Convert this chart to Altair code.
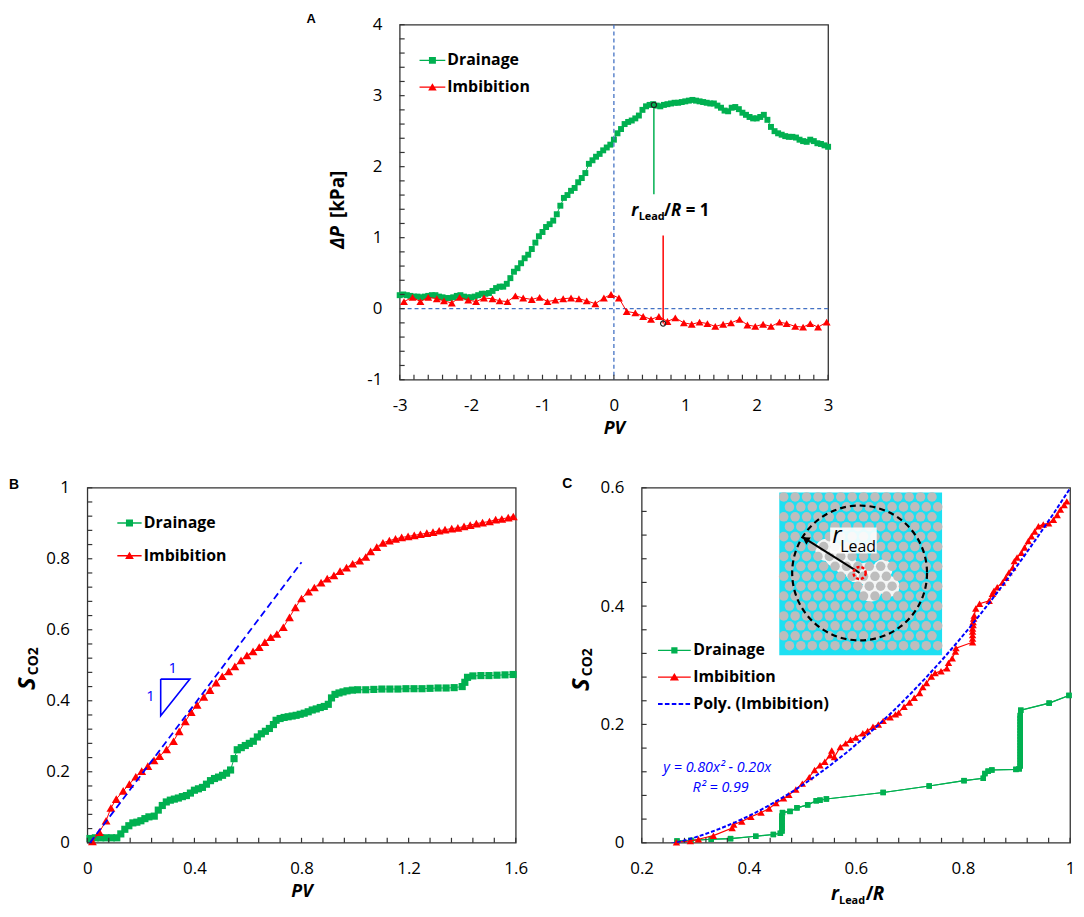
import altair as alt
import numpy as np
import pandas as pd

FONT = "Open Sans"
GREEN = "#00B050"
RED = "#FF0000"
LBLUE = "#4472C4"
BLUE = "#0000FF"
INK = "#000000"
W, H = 432, 358

# ------------------------------------------------------------------ Panel A data
a_drain = [
    (-3.00, 0.19), (-2.95, 0.20), (-2.90, 0.19), (-2.85, 0.18), (-2.80, 0.17), (-2.75, 0.17),
    (-2.70, 0.16), (-2.65, 0.17), (-2.60, 0.18), (-2.55, 0.19), (-2.50, 0.19), (-2.45, 0.17),
    (-2.40, 0.16), (-2.35, 0.15), (-2.30, 0.15), (-2.25, 0.16), (-2.20, 0.18), (-2.15, 0.19),
    (-2.10, 0.17), (-2.05, 0.16), (-2.00, 0.16), (-1.95, 0.17), (-1.90, 0.19), (-1.85, 0.21),
    (-1.80, 0.21), (-1.75, 0.22), (-1.70, 0.25), (-1.65, 0.29), (-1.60, 0.31), (-1.55, 0.31),
    (-1.50, 0.35), (-1.45, 0.43), (-1.40, 0.52), (-1.35, 0.57), (-1.30, 0.64), (-1.25, 0.71),
    (-1.20, 0.76), (-1.15, 0.84), (-1.10, 0.93), (-1.05, 1.02), (-1.00, 1.08), (-0.95, 1.15),
    (-0.90, 1.19), (-0.85, 1.24), (-0.80, 1.33), (-0.75, 1.45), (-0.70, 1.56), (-0.65, 1.60),
    (-0.60, 1.66), (-0.55, 1.70), (-0.50, 1.78), (-0.45, 1.84), (-0.40, 1.91), (-0.35, 2.04),
    (-0.30, 2.09), (-0.25, 2.14), (-0.20, 2.18), (-0.15, 2.23), (-0.10, 2.27), (-0.05, 2.31),
    (0.00, 2.38), (0.05, 2.47), (0.10, 2.53), (0.15, 2.60), (0.20, 2.63), (0.25, 2.65),
    (0.30, 2.68), (0.35, 2.72), (0.40, 2.80), (0.45, 2.85), (0.50, 2.87), (0.55, 2.88),
    (0.60, 2.86), (0.65, 2.85), (0.70, 2.87), (0.75, 2.88), (0.80, 2.89), (0.85, 2.90),
    (0.90, 2.90), (0.95, 2.91), (1.00, 2.92), (1.05, 2.93), (1.10, 2.94), (1.15, 2.93),
    (1.20, 2.92), (1.25, 2.91), (1.30, 2.90), (1.35, 2.89), (1.40, 2.89), (1.45, 2.86),
    (1.50, 2.83), (1.55, 2.79), (1.60, 2.78), (1.65, 2.83), (1.70, 2.84), (1.75, 2.81),
    (1.80, 2.76), (1.85, 2.73), (1.90, 2.70), (1.95, 2.68), (2.00, 2.68), (2.05, 2.70),
    (2.10, 2.73), (2.15, 2.66), (2.20, 2.56), (2.25, 2.50), (2.30, 2.47), (2.35, 2.45),
    (2.40, 2.43), (2.45, 2.42), (2.50, 2.42), (2.55, 2.41), (2.60, 2.38), (2.65, 2.36),
    (2.70, 2.35), (2.75, 2.38), (2.80, 2.36), (2.85, 2.33), (2.90, 2.32), (2.95, 2.30),
    (3.00, 2.28),
]
a_imb = [
    (-2.94, 0.10), (-2.82, 0.16), (-2.71, 0.10), (-2.60, 0.16), (-2.48, 0.14), (-2.38, 0.11),
    (-2.27, 0.08), (-2.16, 0.16), (-2.04, 0.12), (-1.93, 0.10), (-1.82, 0.15), (-1.70, 0.14),
    (-1.60, 0.11), (-1.49, 0.10), (-1.38, 0.18), (-1.27, 0.15), (-1.15, 0.13), (-1.04, 0.16),
    (-0.93, 0.10), (-0.82, 0.12), (-0.71, 0.14), (-0.60, 0.15), (-0.49, 0.14), (-0.38, 0.11),
    (-0.26, 0.07), (-0.14, 0.15), (-0.04, 0.20), (0.07, 0.15), (0.18, -0.04), (0.30, -0.06),
    (0.41, -0.11), (0.52, -0.15), (0.63, -0.11), (0.75, -0.18), (0.86, -0.13), (0.98, -0.20),
    (1.09, -0.22), (1.20, -0.19), (1.31, -0.21), (1.42, -0.25), (1.53, -0.22), (1.64, -0.20),
    (1.76, -0.15), (1.87, -0.23), (1.98, -0.25), (2.09, -0.22), (2.20, -0.25), (2.32, -0.19),
    (2.42, -0.21), (2.54, -0.25), (2.65, -0.26), (2.75, -0.21), (2.86, -0.26), (2.98, -0.19),
]
a_xlabels = [-3, -2, -1, 0, 1, 2, 3]
a_ylabels = [-1, 0, 1, 2, 3, 4]
a_xticks = [round(-3 + 0.2 * i, 2) for i in range(31)]
a_yticks = [round(-1 + 0.2 * i, 2) for i in range(26)]
a_marks = [(0.56, 2.87), (0.69, -0.21)]           # circled points at rLead/R = 1
a_green_seg = [(0.56, 2.87, 1.61)]                 # x, y, y2
a_red_seg = [(0.69, 1.03, -0.21)]
a_note_at = [(0.243, 1.31)]

# ------------------------------------------------------------------ Panel B data
b_drain = [
    (0.01, 0.012), (0.03, 0.014), (0.05, 0.014), (0.07, 0.014), (0.09, 0.014), (0.11, 0.014),
    (0.125, 0.025), (0.14, 0.038), (0.155, 0.048), (0.17, 0.056), (0.185, 0.058), (0.20, 0.062),
    (0.215, 0.068), (0.23, 0.073), (0.25, 0.075), (0.265, 0.092), (0.28, 0.105), (0.295, 0.115),
    (0.31, 0.12), (0.325, 0.123), (0.34, 0.126), (0.355, 0.13), (0.37, 0.133), (0.385, 0.14),
    (0.40, 0.148), (0.415, 0.152), (0.43, 0.156), (0.445, 0.165), (0.46, 0.175), (0.475, 0.181),
    (0.49, 0.185), (0.505, 0.19), (0.52, 0.196), (0.535, 0.205), (0.548, 0.237), (0.56, 0.262),
    (0.575, 0.268), (0.59, 0.274), (0.605, 0.28), (0.62, 0.286), (0.635, 0.298), (0.65, 0.307),
    (0.665, 0.314), (0.68, 0.322), (0.695, 0.333), (0.705, 0.345), (0.72, 0.35), (0.735, 0.353),
    (0.75, 0.355), (0.765, 0.357), (0.78, 0.359), (0.795, 0.362), (0.81, 0.365), (0.825, 0.369),
    (0.84, 0.374), (0.855, 0.377), (0.87, 0.381), (0.885, 0.384), (0.90, 0.39), (0.912, 0.408),
    (0.925, 0.418), (0.94, 0.422), (0.955, 0.425), (0.97, 0.428), (0.99, 0.43), (1.01, 0.431),
    (1.04, 0.431), (1.07, 0.432), (1.10, 0.433), (1.13, 0.433), (1.16, 0.433), (1.19, 0.434),
    (1.22, 0.434), (1.25, 0.434), (1.28, 0.435), (1.31, 0.436), (1.34, 0.436), (1.37, 0.437),
    (1.40, 0.44), (1.41, 0.452), (1.42, 0.466), (1.44, 0.470), (1.47, 0.471), (1.50, 0.471),
    (1.53, 0.472), (1.56, 0.473), (1.59, 0.474),
]
b_imb = [
    (0.019, 0.004), (0.045, 0.03), (0.07, 0.062), (0.088, 0.098), (0.108, 0.123), (0.134, 0.146),
    (0.157, 0.165), (0.181, 0.186), (0.203, 0.202), (0.226, 0.216), (0.249, 0.232), (0.27, 0.244),
    (0.296, 0.263), (0.322, 0.286), (0.343, 0.314), (0.366, 0.342), (0.388, 0.368), (0.41, 0.388),
    (0.435, 0.411), (0.458, 0.43), (0.481, 0.451), (0.504, 0.469), (0.528, 0.483), (0.551, 0.497),
    (0.574, 0.514), (0.596, 0.528), (0.619, 0.539), (0.642, 0.551), (0.663, 0.565), (0.685, 0.579),
    (0.708, 0.588), (0.732, 0.607), (0.755, 0.635), (0.777, 0.663), (0.80, 0.688), (0.826, 0.707),
    (0.848, 0.719), (0.873, 0.733), (0.896, 0.744), (0.921, 0.753), (0.944, 0.765), (0.968, 0.775),
    (0.991, 0.786), (1.017, 0.795), (1.04, 0.805), (1.058, 0.821), (1.081, 0.833), (1.104, 0.845),
    (1.128, 0.851), (1.151, 0.856), (1.174, 0.86), (1.198, 0.863), (1.221, 0.866), (1.244, 0.869),
    (1.268, 0.872), (1.291, 0.875), (1.314, 0.879), (1.336, 0.882), (1.361, 0.885), (1.384, 0.887),
    (1.407, 0.891), (1.43, 0.895), (1.453, 0.899), (1.476, 0.902), (1.502, 0.905), (1.525, 0.91),
    (1.548, 0.912), (1.572, 0.916), (1.591, 0.919),
]
b_slope_line = [(0.01, 0.0), (0.80, 0.79)]
b_triangle = [(0.274, 0.461), (0.383, 0.461), (0.274, 0.358), (0.274, 0.461)]
b_tri_labels = [(0.319, 0.491, "1"), (0.236, 0.412, "1")]
b_xlabels = [0, 0.4, 0.8, 1.2, 1.6]
b_ylabels = [0, 0.2, 0.4, 0.6, 0.8, 1]
b_xticks = [round(0.08 * i, 2) for i in range(21)]
b_yticks = [round(0.04 * i, 2) for i in range(26)]

# ------------------------------------------------------------------ Panel C data
c_drain = [
    (0.266, 0.003), (0.292, 0.004), (0.330, 0.006), (0.366, 0.007), (0.413, 0.011), (0.446, 0.014),
    (0.459, 0.016), (0.462, 0.020), (0.462, 0.025), (0.462, 0.030), (0.462, 0.035), (0.462, 0.040),
    (0.462, 0.045), (0.463, 0.051), (0.477, 0.053), (0.490, 0.059), (0.510, 0.064), (0.526, 0.071),
    (0.533, 0.072), (0.545, 0.074), (0.651, 0.085), (0.737, 0.096), (0.802, 0.105), (0.838, 0.109),
    (0.841, 0.117), (0.847, 0.121), (0.854, 0.123), (0.899, 0.124), (0.905, 0.125), (0.907, 0.130),
    (0.907, 0.135), (0.907, 0.140), (0.907, 0.145), (0.907, 0.150), (0.907, 0.155), (0.907, 0.160),
    (0.907, 0.165), (0.907, 0.170), (0.907, 0.175), (0.907, 0.180), (0.907, 0.185), (0.907, 0.190),
    (0.907, 0.195), (0.907, 0.200), (0.907, 0.205), (0.907, 0.210), (0.907, 0.215), (0.908, 0.224),
    (0.961, 0.236), (0.998, 0.249),
]
c_imb = [
    (0.265, 0.001), (0.291, 0.003), (0.306, 0.006), (0.334, 0.012), (0.369, 0.025), (0.372, 0.031),
    (0.387, 0.036), (0.404, 0.044), (0.423, 0.051), (0.438, 0.058), (0.451, 0.067), (0.465, 0.075),
    (0.475, 0.081), (0.488, 0.090), (0.500, 0.100), (0.513, 0.111), (0.523, 0.123), (0.533, 0.131),
    (0.542, 0.137), (0.552, 0.148), (0.555, 0.156), (0.560, 0.145), (0.571, 0.162), (0.581, 0.168),
    (0.590, 0.174), (0.600, 0.178), (0.613, 0.185), (0.622, 0.189), (0.632, 0.196), (0.642, 0.200),
    (0.651, 0.206), (0.664, 0.212), (0.674, 0.217), (0.680, 0.220), (0.690, 0.230), (0.700, 0.237),
    (0.709, 0.245), (0.719, 0.253), (0.725, 0.263), (0.732, 0.270), (0.741, 0.281), (0.748, 0.287),
    (0.759, 0.290), (0.770, 0.295), (0.773, 0.304), (0.780, 0.312), (0.786, 0.323), (0.787, 0.329),
    (0.818, 0.339), (0.818, 0.345), (0.818, 0.351), (0.818, 0.357), (0.818, 0.362), (0.819, 0.368),
    (0.819, 0.373), (0.820, 0.379), (0.821, 0.384), (0.824, 0.396), (0.831, 0.404), (0.849, 0.409),
    (0.855, 0.421), (0.858, 0.426), (0.864, 0.432), (0.874, 0.440), (0.880, 0.448), (0.886, 0.457),
    (0.893, 0.465), (0.896, 0.476), (0.901, 0.482), (0.909, 0.490), (0.915, 0.499), (0.922, 0.510),
    (0.928, 0.518), (0.934, 0.526), (0.941, 0.535), (0.950, 0.538), (0.960, 0.540), (0.969, 0.546),
    (0.976, 0.554), (0.982, 0.563), (0.989, 0.571), (0.994, 0.577),
]
c_fit_extent = [0.255, 1.0]
c_eq_text = [(0.2405, 0.119, "y = 0.80x² - 0.20x"), (0.295, 0.085, "R² = 0.99")]
c_xlabels = [0.2, 0.4, 0.6, 0.8, 1]
c_ylabels = [0, 0.2, 0.4, 0.6]
c_xticks = [round(0.2 + 0.04 * i, 2) for i in range(21)]
c_yticks = [round(0.04 * i, 2) for i in range(16)]
# inset (micromodel picture) placed in data space of panel C
inset_box = [(0.457, 0.761, 0.317, 0.592)]
inset_label_box = [(0.552, 0.639, 0.489, 0.533)]
inset_blobs = [(0.545, 0.495, 500), (0.562, 0.485, 500), (0.580, 0.472, 500), (0.600, 0.458, 450),
               (0.620, 0.455, 500), (0.642, 0.447, 700), (0.662, 0.433, 450), (0.628, 0.425, 450),
               (0.650, 0.462, 400)]
inset_center = [(0.607, 0.456)]
inset_arrow = [(0.607, 0.456), (0.500, 0.517)]
inset_arrow_head = [(0.506, 0.513)]

# grain texture of the micromodel (regular hexagonal packing)
grain_x, grain_y = [], []
_row, _yy = 0, 4.5
while _yy < 162:
    _xx = 4.5 + (5.75 if _row % 2 else 0.0)
    while _xx < 161:
        grain_x.append(0.457 + _xx / 540.0)
        grain_y.append(0.592 - _yy / 596.7)
        _xx += 11.5
    _yy += 10.0
    _row += 1

# ------------------------------------------------------------------ helpers
LABEXPR = "datum.value < 0 ? '-' + format(-datum.value, '~g') : format(datum.value, '~g')"


def ax_lab(orient, values, title=None):
    kw = dict(orient=orient, values=values, ticks=False, tickSize=0, domain=False, grid=False,
              labelFont=FONT, labelFontSize=17, labelColor=INK, labelPadding=18,
              labelExpr=LABEXPR, labelFlush=False, labelOverlap=False)
    if title:
        kw.update(title=title, titleFont=FONT, titleFontSize=18, titleFontWeight="bold",
                  titleFontStyle="italic", titleColor=INK, titlePadding=6)
    else:
        kw["title"] = None
    return alt.Axis(**kw)


def tick_layers(xs, ys, xticks, yticks):
    tx = alt.Chart(pd.DataFrame({"v": xticks})).mark_tick(
        orient="vertical", size=5, thickness=1.2, color="#333333", opacity=1).encode(
        x=alt.X("v:Q", scale=xs, axis=None), y=alt.value(H - 2.5))
    ty = alt.Chart(pd.DataFrame({"v": yticks})).mark_tick(
        orient="horizontal", size=5, thickness=1.2, color="#333333", opacity=1).encode(
        y=alt.Y("v:Q", scale=ys, axis=None), x=alt.value(2.5))
    return [tx, ty]


def pts_df(pairs):
    df = pd.DataFrame(pairs, columns=["x", "y"])
    df["i"] = range(len(df))
    return df


def series_layers(df, xs, ys, color, shape, size, line_w, axes=None):
    if axes is None:
        xl = alt.X("x:Q", scale=xs, axis=None)
        yl = alt.Y("y:Q", scale=ys, axis=None)
    else:
        xl = alt.X("x:Q", scale=xs, axis=axes[0])
        yl = alt.Y("y:Q", scale=ys, axis=axes[1])
    line = alt.Chart(df).mark_line(color=color, strokeWidth=line_w).encode(
        x=xl, y=yl, order="i:Q")
    pts = alt.Chart(df).mark_point(shape=shape, filled=True, color=color, size=size,
                                   opacity=1, strokeWidth=0).encode(
        x=alt.X("x:Q", scale=xs, axis=None), y=alt.Y("y:Q", scale=ys, axis=None))
    return [line, pts]


def rect_path(x1, y1, x2, y2):
    return f"M{x1:.3f},{y1:.3f}L{x2:.3f},{y1:.3f}L{x2:.3f},{y2:.3f}L{x1:.3f},{y2:.3f}Z"


def sym_square(lh, sq):
    return rect_path(-1, -lh, 1, lh) + rect_path(-sq, -sq, sq, sq)


def sym_triangle(lh, tw, tt, tb):
    return rect_path(-1, -lh, 1, lh) + f"M0,{-tt:.3f}L{tw:.3f},{tb:.3f}L{-tw:.3f},{tb:.3f}Z"


def sym_dashed(lh):
    segs = [(-1.0, -0.72), (-0.58, -0.30), (-0.16, 0.12), (0.26, 0.54), (0.68, 0.96)]
    return "".join(rect_path(a, -lh, b, lh) for a, b in segs)


def legend_layer(names, colors, paths, lx, ly, size, rowpad, laboff):
    leg = alt.Legend(orient="none", legendX=lx, legendY=ly, title=None, padding=0,
                     labelFont=FONT, labelFontSize=16, labelFontWeight="bold", labelColor=INK,
                     labelOffset=laboff, labelLimit=400, symbolSize=size, rowPadding=rowpad,
                     symbolStrokeWidth=0, symbolOpacity=1, direction="vertical")
    df = pd.DataFrame({"s": names})
    return alt.Chart(df).transform_filter("false").mark_point(filled=True, opacity=1).encode(
        color=alt.Color("s:N", scale=alt.Scale(domain=names, range=colors), legend=leg, sort=names),
        shape=alt.Shape("s:N", scale=alt.Scale(domain=names, range=paths), legend=leg, sort=names),
    )


def ptext(text, x, y, size, weight="bold", style="normal", angle=0, color=INK,
          align="left", baseline="alphabetic", font=FONT):
    df = pd.DataFrame({"t": [text]})
    return alt.Chart(df).mark_text(font=font, fontSize=size, fontWeight=weight, fontStyle=style,
                                   angle=angle, color=color, align=align,
                                   baseline=baseline).encode(
        x=alt.value(x), y=alt.value(y), text="t:N")


def dtext(df, xs, ys, size, dx=0, dy=0, weight="bold", style="normal", color=INK,
          align="left", font=FONT):
    return alt.Chart(df).mark_text(font=font, fontSize=size, fontWeight=weight, fontStyle=style,
                                   color=color, align=align, baseline="alphabetic",
                                   dx=dx, dy=dy).encode(
        x=alt.X("x:Q", scale=xs, axis=None), y=alt.Y("y:Q", scale=ys, axis=None), text="t:N")


def panel(layers):
    return alt.layer(*layers).resolve_axis(x="independent", y="independent").properties(
        width=W, height=H)


# ------------------------------------------------------------------ Panel A
xA = alt.Scale(domain=[-3, 3], nice=False, zero=False)
yA = alt.Scale(domain=[-1, 4], nice=False, zero=False)
dfA_d, dfA_i = pts_df(a_drain), pts_df(a_imb)

A_layers = []
A_layers += series_layers(dfA_d, xA, yA, GREEN, "square", 36, 1,
                          axes=[ax_lab("bottom", a_xlabels, "PV"), ax_lab("left", a_ylabels)])
A_layers.append(alt.Chart(pd.DataFrame({"x": [0]})).mark_rule(
    color=LBLUE, strokeDash=[4, 3], strokeWidth=1.3).encode(x=alt.X("x:Q", scale=xA, axis=None)))
A_layers.append(alt.Chart(pd.DataFrame({"y": [0]})).mark_rule(
    color=LBLUE, strokeDash=[4, 3], strokeWidth=1.3).encode(y=alt.Y("y:Q", scale=yA, axis=None)))
A_layers += series_layers(dfA_i, xA, yA, RED, "triangle-up", 64, 1)
A_layers += tick_layers(xA, yA, a_xticks, a_yticks)
for seg, col in ((a_green_seg, GREEN), (a_red_seg, RED)):
    A_layers.append(alt.Chart(pd.DataFrame(seg, columns=["x", "y", "y2"])).mark_rule(
        color=col, strokeWidth=1.5).encode(
        x=alt.X("x:Q", scale=xA, axis=None), y=alt.Y("y:Q", scale=yA, axis=None), y2="y2:Q"))
A_layers.append(alt.Chart(pd.DataFrame(a_marks, columns=["x", "y"])).mark_point(
    shape="circle", filled=False, color="#222222", size=28, strokeWidth=1.2, opacity=1).encode(
    x=alt.X("x:Q", scale=xA, axis=None), y=alt.Y("y:Q", scale=yA, axis=None)))
note = pd.DataFrame(a_note_at, columns=["x", "y"])
for txt, size, dx, dy, style in (("r", 17, 0, 0, "italic"), ("Lead", 11, 7.5, 4, "normal"),
                                 ("/", 17, 33, 0, "normal"), ("R", 17, 40, 0, "italic"),
                                 ("= 1", 17, 55, 0, "normal")):
    A_layers.append(dtext(note.assign(t=txt), xA, yA, size, dx=dx, dy=dy, style=style))
A_layers.append(legend_layer(["Drainage", "Imbibition"], [GREEN, RED],
                             [sym_square(0.055, 0.27), sym_triangle(0.055, 0.33, 0.30, 0.26)],
                             20, 23, 676, 6, 2))
A_layers.append(ptext("ΔP", -56, 226, 19, style="italic", angle=270))
A_layers.append(ptext("[kPa]", -56, 195, 19, angle=270))
A_layers.append(ptext("A", -94, -2, 13, font="Liberation Sans"))
panelA = panel(A_layers)

# ------------------------------------------------------------------ Panel B
xB = alt.Scale(domain=[0, 1.6], nice=False, zero=False)
yB = alt.Scale(domain=[0, 1], nice=False, zero=False)
dfB_d, dfB_i = pts_df(b_drain), pts_df(b_imb)

B_layers = []
B_layers += series_layers(dfB_d, xB, yB, GREEN, "square", 52, 1,
                          axes=[ax_lab("bottom", b_xlabels, "PV"), ax_lab("left", b_ylabels)])
B_layers += series_layers(dfB_i, xB, yB, RED, "triangle-up", 80, 1)
B_layers += tick_layers(xB, yB, b_xticks, b_yticks)
B_layers.append(alt.Chart(pts_df(b_slope_line)).mark_line(
    color=BLUE, strokeDash=[7, 4], strokeWidth=1.8).encode(
    x=alt.X("x:Q", scale=xB, axis=None), y=alt.Y("y:Q", scale=yB, axis=None), order="i:Q"))
B_layers.append(alt.Chart(pts_df(b_triangle)).mark_line(color=BLUE, strokeWidth=1.6).encode(
    x=alt.X("x:Q", scale=xB, axis=None), y=alt.Y("y:Q", scale=yB, axis=None), order="i:Q"))
B_layers.append(alt.Chart(pd.DataFrame(b_tri_labels, columns=["x", "y", "t"])).mark_text(
    font=FONT, fontSize=15, color=BLUE, baseline="middle", align="center").encode(
    x=alt.X("x:Q", scale=xB, axis=None), y=alt.Y("y:Q", scale=yB, axis=None), text="t:N"))
B_layers.append(legend_layer(["Drainage", "Imbibition"], [GREEN, RED],
                             [sym_square(0.06, 0.29), sym_triangle(0.06, 0.36, 0.32, 0.28)],
                             30, 23, 600, 12, 2))
B_layers.append(ptext("S", -53, 204, 24, style="italic", angle=270))
B_layers.append(ptext("CO2", -50, 189, 14, angle=270))
B_layers.append(ptext("B", -79, 1, 14, font="Liberation Sans"))
panelB = panel(B_layers)

# ------------------------------------------------------------------ Panel C
xC = alt.Scale(domain=[0.2, 1.0], nice=False, zero=False)
yC = alt.Scale(domain=[0, 0.6], nice=False, zero=False)
dfC_d, dfC_i = pts_df(c_drain), pts_df(c_imb)


def cx(name="x"):
    return alt.X(f"{name}:Q", scale=xC, axis=None)


def cy(name="y"):
    return alt.Y(f"{name}:Q", scale=yC, axis=None)


C_layers = []
C_layers += series_layers(dfC_d, xC, yC, GREEN, "square", 30, 1.2,
                          axes=[ax_lab("bottom", c_xlabels), ax_lab("left", c_ylabels)])
# inset picture
C_layers.append(alt.Chart(pd.DataFrame(inset_box, columns=["x", "x2", "y", "y2"])).mark_rect(
    color="#1EE0F2").encode(x=cx(), x2="x2:Q", y=cy(), y2="y2:Q"))
C_layers.append(alt.Chart(pd.DataFrame(inset_blobs, columns=["x", "y", "s"])).mark_circle(
    color="#F4F6F6", opacity=1).encode(x=cx(), y=cy(), size=alt.Size("s:Q", scale=None, legend=None)))
C_layers.append(alt.Chart(pd.DataFrame({"x": grain_x, "y": grain_y})).mark_circle(
    color="#BDBDBD", size=92, opacity=1).encode(x=cx(), y=cy()))
C_layers.append(alt.Chart(pd.DataFrame(inset_label_box, columns=["x", "x2", "y", "y2"])).mark_rect(
    color="#FFFFFF", opacity=0.9).encode(x=cx(), x2="x2:Q", y=cy(), y2="y2:Q"))
C_layers.append(alt.Chart(pd.DataFrame(inset_center, columns=["x", "y"])).mark_point(
    shape="circle", filled=False, color="#000000", size=18496, strokeWidth=2.2,
    strokeDash=[6, 4], opacity=1).encode(x=cx(), y=cy()))
C_layers.append(alt.Chart(pts_df(inset_arrow)).mark_line(color="#000000", strokeWidth=2).encode(
    x=cx(), y=cy(), order="i:Q"))
C_layers.append(alt.Chart(pd.DataFrame(inset_arrow_head, columns=["x", "y"])).mark_point(
    shape="triangle-up", filled=True, color="#000000", size=70, angle=302, opacity=1).encode(
    x=cx(), y=cy()))
C_layers.append(alt.Chart(pd.DataFrame(inset_center, columns=["x", "y"])).mark_point(
    shape="circle", filled=False, color="#FF0000", size=150, strokeWidth=2.5,
    strokeDash=[3, 2], opacity=1).encode(x=cx(), y=cy()))
C_layers.append(alt.Chart(pd.DataFrame({"x": [0.556], "y": [0.506], "t": ["r"]})).mark_text(
    font=FONT, fontSize=24, fontStyle="italic", color="#000000", align="left",
    baseline="alphabetic").encode(x=cx(), y=cy(), text="t:N"))
C_layers.append(alt.Chart(pd.DataFrame({"x": [0.571], "y": [0.492], "t": ["Lead"]})).mark_text(
    font=FONT, fontSize=16, color="#000000", align="left",
    baseline="alphabetic").encode(x=cx(), y=cy(), text="t:N"))
# data drawn over the inset
C_layers += series_layers(dfC_d, xC, yC, GREEN, "square", 30, 1.2)
C_layers += series_layers(dfC_i, xC, yC, RED, "triangle-up", 56, 1.2)
C_layers += tick_layers(xC, yC, c_xticks, c_yticks)
C_layers.append(alt.Chart(dfC_i).transform_regression(
    "x", "y", method="poly", order=2, extent=c_fit_extent).mark_line(
    color=BLUE, strokeDash=[4, 2], strokeWidth=2, clip=True).encode(x=cx(), y=cy()))
C_layers.append(alt.Chart(pd.DataFrame(c_eq_text, columns=["x", "y", "t"])).mark_text(
    font=FONT, fontSize=14.5, fontStyle="italic", color=BLUE, align="left",
    baseline="alphabetic").encode(x=cx(), y=cy(), text="t:N"))
C_layers.append(legend_layer(["Drainage", "Imbibition", "Poly. (Imbibition)"], [GREEN, RED, BLUE],
                             [sym_square(0.042, 0.19), sym_triangle(0.042, 0.28, 0.25, 0.21),
                              sym_dashed(0.06)],
                             16.5, 147.5, 1089, 2, 2.5))
C_layers.append(ptext("S", -53, 205, 24, style="italic", angle=270))
C_layers.append(ptext("CO2", -50, 190, 14, angle=270))
C_layers.append(ptext("r", 191, H + 58, 19, style="italic"))
C_layers.append(ptext("Lead", 199, H + 62, 11))
C_layers.append(ptext("/", 226, H + 58, 19))
C_layers.append(ptext("R", 233, H + 58, 19, style="italic"))
C_layers.append(ptext("C", -80, 0, 14, font="Liberation Sans"))
panelC = panel(C_layers)

# ------------------------------------------------------------------ layout
spacer = alt.Chart(pd.DataFrame({"v": [0]})).mark_point(opacity=0).properties(
    width=219, height=20, view=alt.ViewBackground(stroke="transparent"))

top = alt.hconcat(spacer, panelA, spacing=0).resolve_scale(color="independent", shape="independent")
bottom = alt.hconcat(panelB, panelC, spacing=33).resolve_scale(color="independent",
                                                               shape="independent")
chart = alt.vconcat(top, bottom, spacing=38).resolve_scale(
    color="independent", shape="independent").properties(padding=0, background="white").configure_view(
    stroke="#333333", strokeWidth=1.3)

chart.save("out.html", embed_options={"renderer": "svg", "actions": False})
